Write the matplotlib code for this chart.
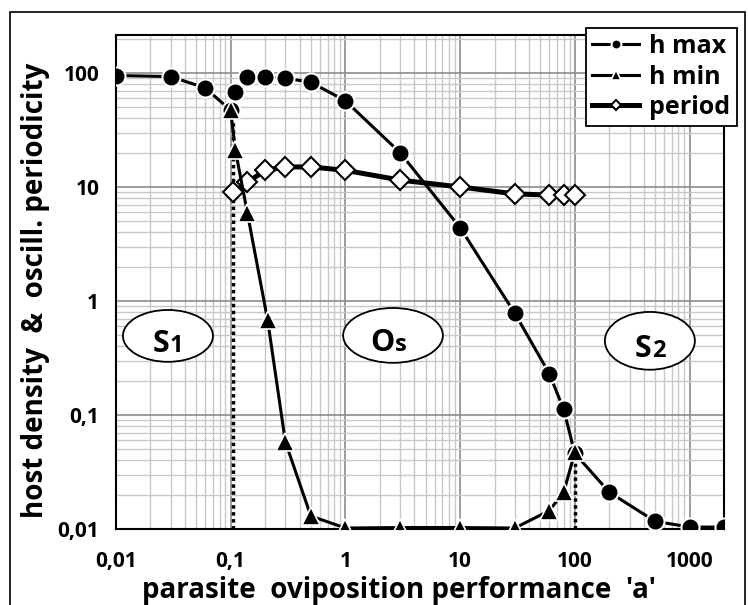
import matplotlib
matplotlib.use('Agg')
import matplotlib.pyplot as plt
from matplotlib.patches import Ellipse, Rectangle
from matplotlib.ticker import LogLocator, NullFormatter

plt.rcParams['font.family'] = ['Open Sans', 'DejaVu Sans']
plt.rcParams['font.weight'] = 'bold'

# data
a_hmax = [0.01, 0.03, 0.06, 0.1, 0.11, 0.14, 0.2, 0.3, 0.5, 1, 3, 10, 30, 60, 80, 100, 200, 500, 1000, 2000]
hmax = [95, 93, 74, 47, 68, 92, 92, 90, 83, 57, 20, 4.4, 0.78, 0.23, 0.112, 0.046, 0.021, 0.0117, 0.0104, 0.0104]

a_hmin = [0.1, 0.11, 0.14, 0.21, 0.3, 0.5, 1, 3, 10, 30, 60, 80, 100]
hmin = [47, 21, 5.9, 0.68, 0.058, 0.013, 0.0102, 0.0103, 0.0103, 0.0102, 0.0145, 0.021, 0.047]

a_period = [0.105, 0.14, 0.2, 0.3, 0.5, 1, 3, 10, 30, 60, 80, 100]
period = [9, 11, 14, 15, 15, 14, 11.5, 10, 8.7, 8.5, 8.5, 8.5]

# bifurcation borders (dotted)
border_a = [0.105, 100]
border_top = [45, 0.045]

xticks = [0.01, 0.1, 1, 10, 100, 1000]
xlabels = ['0,01', '0,1', '1', '10', '100', '1000']
yticks = [0.01, 0.1, 1, 10, 100]
ylabels = ['0,01', '0,1', '1', '10', '100']

fig = plt.figure(figsize=(7.48, 6.05), dpi=100)
ax = fig.add_axes([0.155, 0.1256, 0.813, 0.8164])

ax.set_xscale('log')
ax.set_yscale('log')
ax.set_xlim(0.01, 2000)
ax.set_ylim(0.01, 215)

ax.xaxis.set_minor_locator(LogLocator(base=10, subs=range(2, 10)))
ax.yaxis.set_minor_locator(LogLocator(base=10, subs=range(2, 10)))
ax.xaxis.set_minor_formatter(NullFormatter())
ax.yaxis.set_minor_formatter(NullFormatter())
ax.grid(True, which='major', color='#8c8c8c', lw=1.2)
ax.grid(True, which='minor', color='#c8c8c8', lw=1.0)
ax.set_axisbelow(True)

for x0, y1 in zip(border_a, border_top):
    ax.plot([x0, x0], [0.01, y1], color='black', lw=2.5, ls=(0, (1, 1)), zorder=2)

ax.plot(a_period, period, color='black', lw=3.6, marker='D', ms=10,
        mfc='white', mec='black', mew=1.5, label='period', zorder=3)
ax.plot(a_hmax, hmax, color='black', lw=2.2, marker='o', ms=13,
        mfc='black', mec='white', mew=1.5, label='h max', zorder=4)
ax.plot(a_hmin, hmin, color='black', lw=2.2, marker='^', ms=13,
        mfc='black', mec='white', mew=1.2, label='h min', zorder=5)

ax.set_xticks(xticks)
ax.set_xticklabels(xlabels)
ax.set_yticks(yticks)
ax.set_yticklabels(ylabels)
ax.tick_params(axis='x', which='both', length=0, labelsize=15, pad=16)
ax.tick_params(axis='y', which='both', length=0, labelsize=15, pad=12)
for lab in ax.get_xticklabels() + ax.get_yticklabels():
    lab.set_fontweight('bold')
for sp in ax.spines.values():
    sp.set_linewidth(1.5)

ax.set_xlabel("parasite  oviposition performance  'a'", fontsize=20, fontweight='bold', va='center')
ax.xaxis.set_label_coords(0.4655, -0.1235)
ax.set_ylabel("host density  &  oscill. periodicity", fontsize=20, fontweight='bold', va='center')
ax.yaxis.set_label_coords(-0.133, 0.484)

# regime labels
regions = [(0.0855, 0.391, 0.148, 0.105, 'S', '1'),
           (0.4556, 0.392, 0.164, 0.111, 'O', 's'),
           (0.878, 0.381, 0.148, 0.117, 'S', '2')]
for cx, cy, w, h, big, small in regions:
    ax.add_patch(Ellipse((cx, cy), w, h, transform=ax.transAxes, fc='white',
                         ec='black', lw=1.3, zorder=6))
    ax.text(cx + 0.003, cy - 0.032, big, transform=ax.transAxes, ha='right', va='baseline',
            fontsize=22, fontweight='bold', zorder=7)
    ax.text(cx + 0.003, cy - 0.032, small, transform=ax.transAxes, ha='left', va='baseline',
            fontsize=17, fontweight='bold', zorder=7)

h1, l1 = ax.get_legend_handles_labels()
order = [1, 2, 0]
leg = fig.legend([h1[i] for i in order], [l1[i] for i in order], loc='upper right',
                 bbox_to_anchor=(0.985, 0.954), bbox_transform=fig.transFigure,
                 fancybox=False, edgecolor='black', framealpha=1, markerscale=0.55,
                 prop={'size': 18, 'weight': 'bold'}, handlelength=1.9, handletextpad=0.4,
                 borderpad=0.25, labelspacing=0.22, borderaxespad=0)
leg.get_frame().set_linewidth(1.3)

fig.patches.append(Rectangle((0.0134, -0.01), 0.983, 0.99, transform=fig.transFigure,
                             fill=False, ec='black', lw=1.2))

fig.savefig('out.png', dpi=100)
